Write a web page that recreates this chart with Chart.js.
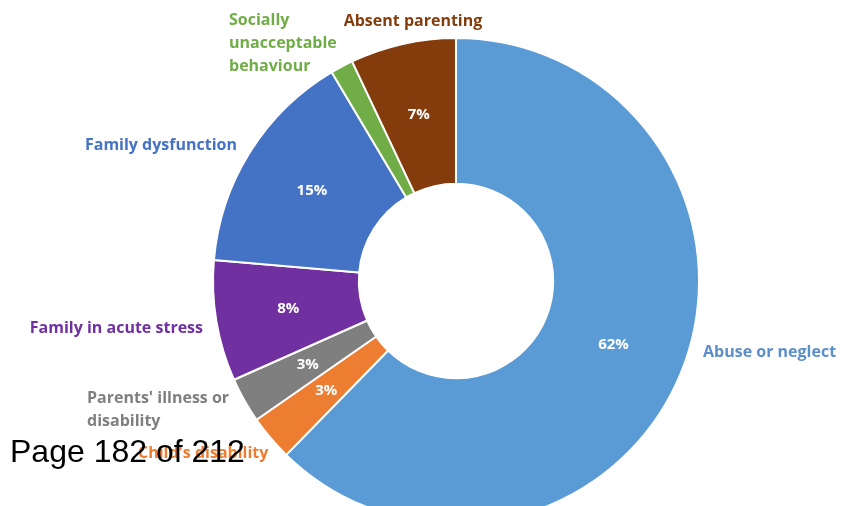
<!DOCTYPE html>
<html>
<head>
<meta charset="utf-8">
<script src="https://cdn.jsdelivr.net/npm/chart.js@4"></script>
<style>
  html, body { margin: 0; padding: 0; background: #fff; overflow: hidden; }
  #wrap { position: relative; width: 854px; height: 562px; }
  #page {
    position: absolute; left: 10px; top: 433px;
    font-family: "Liberation Sans", Arial, sans-serif; font-size: 32px; color: #000;
    white-space: nowrap;
  }
</style>
</head>
<body>
<div id="wrap">
  <canvas id="donut"></canvas>
  <div id="page">Page 182 of 212</div>
</div>
<script>
// slices, clockwise from 12 o'clock
const categories = ['Abuse or neglect', "Child's disability", "Parents' illness or disability",
  'Family in acute stress', 'Family dysfunction', 'Socially unacceptable behaviour', 'Absent parenting'];
const shares = [62, 3, 3, 8, 15, 1.5, 7];
const shareLabels = ['62%', '3%', '3%', '8%', '15%', '', '7%'];
const colors = ['#5B9BD5', '#ED7D31', '#7F7F7F', '#7030A0', '#4472C4', '#70AD47', '#843C0C'];

// outer category labels: text lines, anchor, alignment
const outerLabels = [
  { lines: ['Abuse or neglect'], x: 703, y: 352, align: 'left', color: '#5B8FCB' },
  { lines: ["Child's disability"], x: 138, y: 453, align: 'left', color: '#ED7D31' },
  { lines: ["Parents' illness or", 'disability'], x: 87, y: 398, align: 'left', color: '#7F7F7F' },
  { lines: ['Family in acute stress'], x: 203, y: 328, align: 'right', color: '#7030A0' },
  { lines: ['Family dysfunction'], x: 237, y: 145, align: 'right', color: '#4472C4' },
  { lines: ['Socially', 'unacceptable', 'behaviour'], x: 229, y: 20, align: 'left', color: '#70AD47' },
  { lines: ['Absent parenting'], x: 413, y: 21, align: 'center', color: '#843C0C' }
];

const labelPlugin = {
  id: 'sliceLabels',
  afterDatasetsDraw(chart) {
    const ctx = chart.ctx;
    const meta = chart.getDatasetMeta(0);
    ctx.save();
    ctx.textBaseline = 'middle';
    // values inside slices
    ctx.font = 'bold 15px "Open Sans", sans-serif';
    ctx.fillStyle = '#ffffff';
    ctx.textAlign = 'center';
    meta.data.forEach((arc, i) => {
      if (!shareLabels[i]) return;
      const p = arc.getCenterPoint();
      ctx.fillText(shareLabels[i], p.x, p.y);
    });
    // category names around the ring
    ctx.font = 'bold 16px "Open Sans", sans-serif';
    outerLabels.forEach(l => {
      ctx.fillStyle = l.color;
      ctx.textAlign = l.align;
      l.lines.forEach((t, k) => ctx.fillText(t, l.x, l.y + k * 23));
    });
    ctx.restore();
  }
};

new Chart(document.getElementById('donut'), {
  type: 'doughnut',
  data: {
    labels: categories,
    datasets: [{
      data: shares,
      backgroundColor: colors,
      borderColor: '#ffffff',
      borderWidth: 2,
      hoverOffset: 0
    }]
  },
  options: {
    responsive: true,
    maintainAspectRatio: false,
    animation: false,
    events: [],
    radius: 243,
    cutout: '40%',
    layout: { padding: { left: 58 } },
    plugins: {
      legend: { display: false },
      tooltip: { enabled: false }
    }
  },
  plugins: [labelPlugin]
});
</script>
</body>
</html>
